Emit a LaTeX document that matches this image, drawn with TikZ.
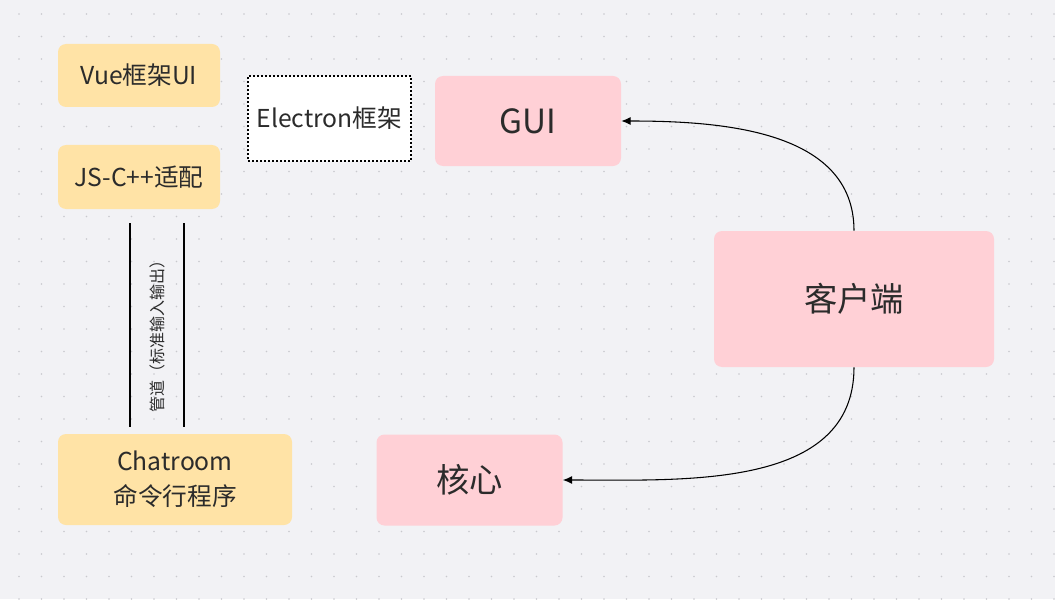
\documentclass[tikz,border=0pt]{standalone}
\usepackage{fontspec}
\setmainfont{Noto Sans CJK SC}
\usetikzlibrary{arrows.meta}
\definecolor{bgcol}{HTML}{F2F2F5}
\definecolor{dotcol}{HTML}{C9C9CE}
\definecolor{yellowbox}{HTML}{FFE3A6}
\definecolor{pinkbox}{HTML}{FFD0D6}
\definecolor{txtcol}{HTML}{2B2B2B}
\tikzset{
  yellowblock/.style={fill=yellowbox, rounded corners=6pt, inner sep=0pt, text=txtcol, font=\fontsize{18.5}{26}\selectfont, align=center},
  pinkblock/.style={fill=pinkbox, rounded corners=6pt, inner sep=0pt, text=txtcol, font=\fontsize{25}{30}\selectfont},
  framebox/.style={fill=white, draw=black, line width=0.8pt, dash pattern=on 1.5pt off 1.5pt, inner sep=0pt, text=txtcol, font=\fontsize{18.5}{22}\selectfont},
  link/.style={-{Latex[length=7pt,width=6pt]}, line width=0.8pt, black}
}
\begin{document}
\begin{tikzpicture}[x=0.75pt,y=-0.75pt]
	% background and dot grid
	\fill [bgcol] (0,0) rectangle (1055,599);
	\useasboundingbox (0,0) rectangle (1055,599);
	\foreach \i in {0,...,46}{
		\foreach \j in {0,...,26}{
			\fill [dotcol] (19+22.5*\i,14+22.5*\j) circle (0.9);
		}
	}

	% left column
	\node [yellowblock, minimum width=121.5pt, minimum height=47.25pt] (vue) at (139,75.5) {Vue框架UI};
	\node [yellowblock, minimum width=121.5pt, minimum height=48pt] (adapter) at (139,177) {JS-C++适配};
	\node [yellowblock, minimum width=175.5pt, minimum height=68.25pt] (chatroom) at (175,479.5) {Chatroom\\命令行程序};
	\node [framebox, minimum width=122.25pt, minimum height=63.75pt] (electron) at (329.5,118.5) {Electron框架};

	% pipe between adapter and chatroom
	\coordinate (pipeLtop) at (130,223);
	\coordinate (pipeLbot) at (130,427);
	\coordinate (pipeRtop) at (184,223);
	\coordinate (pipeRbot) at (184,427);
	\draw [line width=0.8pt] (pipeLtop) -- (pipeLbot);
	\draw [line width=0.8pt] (pipeRtop) -- (pipeRbot);
	\node [rotate=90, text=txtcol, font=\fontsize{12}{14}\selectfont] (pipe) at (157,332) {管道（标准输入输出）};

	% right part
	\node [pinkblock, minimum width=139.5pt, minimum height=67.5pt] (gui) at (528,121) {GUI};
	\node [pinkblock, minimum width=210pt, minimum height=102pt] (client) at (854,299) {客户端};
	\node [pinkblock, minimum width=139.5pt, minimum height=68.25pt] (core) at (469.5,480) {核心};

	\draw [link] (client.north) to[out=90,in=0] (gui.east);
	\draw [link] (client.south) to[out=-90,in=0] (core.east);
\end{tikzpicture}
\end{document}
